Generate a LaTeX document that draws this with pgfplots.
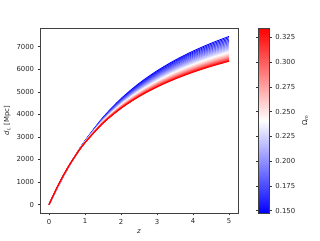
\documentclass[border=0pt]{standalone}
\usepackage{fontspec}
\setmainfont{DejaVu Sans}
\usepackage{pgfplots}
\pgfplotsset{compat=1.18}
\usepackage{pgfplotstable}

\pgfplotstableread{
z c0 c1 c2 c3 c4 c5 c6 c7 c8 c9 c10 c11 c12 c13 c14 c15 c16 c17 c18 c19 c20 c21 c22 c23 c24 c25 c26 c27 c28 c29 c30
0 0 0 0 0 0 0 0 0 0 0 0 0 0 0 0 0 0 0 0 0 0 0 0 0 0 0 0 0 0 0 0
0.25 800 802 803 805 807 809 810 812 813 815 816 818 820 822 823 825 826 828 829 831 832 834 836 838 839 841 842 844 845 847 848
0.5 1542 1543 1544 1546 1547 1548 1549 1550 1551 1553 1554 1555 1556 1558 1559 1560 1561 1563 1564 1566 1567 1569 1570 1571 1572 1574 1575 1577 1578 1580 1581
0.75 2218 2217 2216 2215 2214 2213 2212 2211 2210 2210 2209 2209 2208 2208 2207 2207 2206 2206 2206 2206 2206 2206 2205 2206 2206 2206 2206 2206 2206 2207 2207
1 2827 2823 2818 2814 2810 2806 2802 2798 2794 2791 2787 2784 2781 2778 2775 2772 2769 2767 2764 2762 2759 2757 2755 2753 2751 2750 2748 2747 2745 2744 2743
1.5 3862 3850 3837 3825 3812 3801 3789 3778 3767 3757 3746 3737 3727 3718 3709 3701 3692 3684 3676 3669 3661 3654 3647 3641 3635 3630 3624 3619 3614 3610 3606
2 4693 4672 4650 4630 4609 4590 4571 4553 4534 4517 4499 4483 4466 4451 4436 4422 4407 4394 4380 4368 4356 4345 4333 4323 4313 4304 4294 4286 4278 4271 4263
2.5 5370 5341 5311 5283 5255 5229 5202 5177 5152 5129 5105 5083 5060 5039 5018 4999 4979 4961 4943 4927 4910 4895 4879 4866 4852 4840 4827 4816 4805 4796 4786
3 5929 5893 5856 5822 5787 5754 5721 5690 5659 5630 5601 5574 5546 5520 5494 5470 5446 5424 5402 5382 5361 5343 5324 5307 5290 5275 5260 5247 5233 5222 5210
3.5 6400 6358 6315 6275 6234 6196 6157 6121 6085 6051 6017 5985 5953 5923 5893 5865 5837 5812 5786 5762 5738 5717 5695 5676 5656 5639 5621 5606 5591 5578 5564
4 6802 6754 6706 6661 6615 6572 6529 6489 6448 6410 6371 6335 6299 6266 6232 6201 6169 6141 6112 6086 6059 6035 6010 5989 5967 5948 5928 5911 5894 5880 5865
4.5 7150 7098 7045 6995 6945 6898 6851 6806 6761 6719 6677 6638 6598 6562 6525 6491 6456 6425 6393 6364 6335 6309 6283 6259 6235 6214 6193 6175 6156 6140 6124
5 7455 7399 7342 7288 7234 7183 7132 7084 7036 6991 6945 6903 6860 6821 6781 6744 6707 6673 6639 6608 6577 6549 6520 6495 6469 6447 6424 6404 6384 6367 6350
}\dldata

\pgfplotsset{
  /pgf/number format/assume math mode=true,
  every tick label/.append style={font=\fontsize{6.9}{8}\selectfont, text=black!85},
  every axis label/.append style={font=\fontsize{6.9}{8}\selectfont, text=black!85},
  colormap={bwr}{rgb=(0,0,1) rgb=(1,1,1) rgb=(1,0,0)},
}

\begin{document}
\begin{tikzpicture}
\begin{axis}[
  name=main,
  scale only axis,
  width=198pt, height=185pt,
  xmin=-0.25, xmax=5.25,
  ymin=-373, ymax=7828,
  xtick={0,1,2,3,4,5},
  ytick={0,1000,2000,3000,4000,5000,6000,7000},
  scaled y ticks=false,
  yticklabel style={/pgf/number format/1000 sep={}},
  tick align=outside,
  xtick pos=bottom, ytick pos=left,
  major tick length=2.4pt,
  tick style={black!80, line width=0.5pt},
  axis line style={black!75, line width=0.55pt},
  xlabel={\textit{z}},
  ylabel={\textit{d}\textsubscript{\textit{L}} [Mpc]},
  xlabel style={yshift=1pt},
  ylabel style={yshift=-1pt},
  point meta min=0.1477, point meta max=0.3344,
  colorbar,
  colorbar style={
    width=11pt,
    at={(parent axis.north east)}, anchor=north west, xshift=12pt,
    ytick={0.150,0.175,0.200,0.225,0.250,0.275,0.300,0.325},
    yticklabel style={/pgf/number format/.cd, fixed, fixed zerofill, precision=3},
    scaled y ticks=false,
    tick align=outside,
    major tick length=2.4pt,
    tick style={black!80, line width=0.5pt},
    axis line style={black!75, line width=0.55pt},
    ylabel={Ω\textsubscript{\textit{m}}},
  },
]
\pgfplotsinvokeforeach{0,...,30}{
  \pgfmathtruncatemacro\cv{#1*100/3}
  \edef\tmp{\noexpand\addplot[smooth, no marks, line width=0.85pt, color of colormap={\cv}] table[x=z, y=c#1] {\noexpand\dldata};}
  \tmp
}
\end{axis}
\path (main.south west) ++(-40pt,-27pt) rectangle ++(320pt,240pt);
\end{tikzpicture}
\end{document}
